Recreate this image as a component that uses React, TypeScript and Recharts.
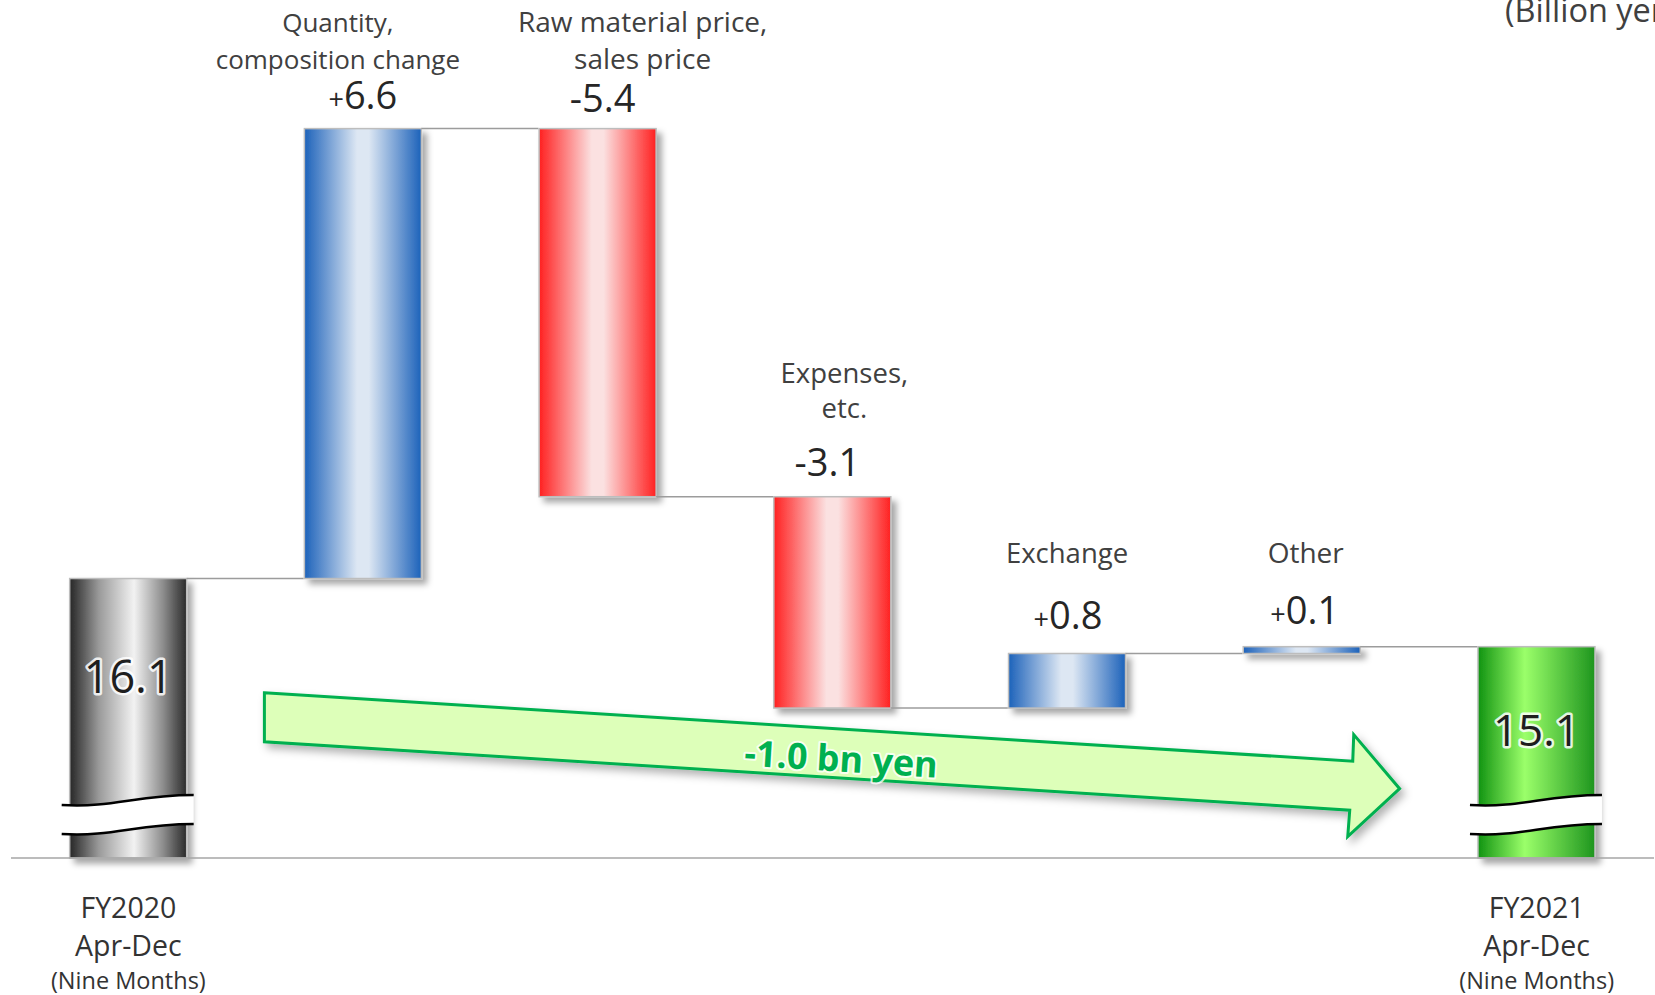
import React from 'react';
import { BarChart, Bar, XAxis, YAxis, ReferenceLine } from 'recharts';

// ---------- data ----------
const categories = ['FY2020', 'Quantity', 'RawMaterial', 'Expenses', 'Exchange', 'Other', 'FY2021'];
const barKinds = ['total', 'delta', 'delta', 'delta', 'delta', 'delta', 'total'];
const barValues = [16.1, 6.6, -5.4, -3.1, 0.8, 0.1, 15.1];
const axisTickLines = [
  ['FY2020', 'Apr-Dec', '(Nine Months)'],
  [], [], [], [], [],
  ['FY2021', 'Apr-Dec', '(Nine Months)'],
];
const factorLabelLines = [
  [],
  ['Quantity,', 'composition change'],
  ['Raw material price,', 'sales price'],
  ['Expenses,', 'etc.'],
  ['Exchange'],
  ['Other'],
  [],
];
const axisDomain = [12, 24];
const arrowLevels = [14.19, 12.89]; // centre line of the change arrow at FY2020 / FY2021
const unitLabel = '(Billion yen)';
const changeUnit = 'bn yen';

// ---------- layout / style (not data) ----------
const valueGap = [0, 20, 17, 21, 25, 23, 0];
const valueDx = [0, 0, 5, -5, 1, 3, 0];
const factorGap = [0, 40, 43, 58, 66, 61, 0];
const factorDx = [0, -25, 45, 12, 0, 4, 0];
const factorLineH = [0, 37, 37, 35, 36, 36, 0];
const factorSize = [0, 26, 28, 27.5, 27.5, 28, 0];
const innerGap = [114, 0, 0, 0, 0, 0, 99];
const innerSize = [45, 0, 0, 0, 0, 0, 44];
const FONT = '"Open Sans", "DejaVu Sans", sans-serif';

// ---------- derived table ----------
const data = (() => {
  let running = 0;
  return categories.map((key, i) => {
    const v = barValues[i];
    let range: number[];
    if (barKinds[i] === 'total') {
      range = [axisDomain[0], v];
      running = v;
    } else {
      const next = Math.round((running + v) * 10) / 10;
      range = [Math.min(running, next), Math.max(running, next)];
      running = next;
    }
    return { key, range };
  });
})();

const fmt = (i: number) => {
  const v = barValues[i];
  if (barKinds[i] === 'total') return v.toFixed(1);
  return v > 0 ? '+' + v.toFixed(1) : v.toFixed(1);
};

const fillFor = (i: number) => {
  if (barKinds[i] === 'total') return i === 0 ? 'url(#gPrev)' : 'url(#gCurr)';
  return barValues[i] >= 0 ? 'url(#gUp)' : 'url(#gDown)';
};

const wave = (xl: number, xr: number, yl: number, yr: number) => {
  const w = xr - xl;
  return `M${xl},${yl} C${xl + 0.4 * w},${yl + 3} ${xl + 0.55 * w},${yr} ${xr},${yr}`;
};

const WaterfallBar = (props: any) => {
  const { x, y, width, height, index } = props;
  const isTotal = barKinds[index] === 'total';
  const v = barValues[index];
  const endY = isTotal || v >= 0 ? y : y + height;
  const cx = x + width / 2;
  const label = fmt(index);
  const parts: any[] = [];

  parts.push(
    <rect key="r" x={x} y={y} width={width} height={height} fill={fillFor(index)}
      stroke="#BDBDBD" strokeWidth={1.5} filter="url(#barShadow)" />
  );
  if (index < categories.length - 1) {
    parts.push(
      <line key="c" x1={x + width} x2={x + 2 * width} y1={endY} y2={endY} stroke="#9C9C9C" strokeWidth={1.5} />
    );
  }
  if (isTotal) {
    const yb = y + height;
    const xl = x - 8;
    const xr = x + width + 7;
    const w = xr - xl;
    const up = wave(xl, xr, yb - 53, yb - 63);
    const lo = wave(xl, xr, yb - 24, yb - 34);
    const loBack = `L${xr},${yb - 34} C${xl + 0.55 * w},${yb - 34} ${xl + 0.4 * w},${yb - 21} ${xl},${yb - 24} Z`;
    parts.push(<path key="wb" d={up + ' ' + loBack} fill="#fff" stroke="none" />);
    parts.push(<path key="w1" d={up} fill="none" stroke="#000" strokeWidth={2.5} />);
    parts.push(<path key="w2" d={lo} fill="none" stroke="#000" strokeWidth={2.5} />);
    parts.push(
      <text key="in" x={cx} y={y + innerGap[index]} textAnchor="middle" fontFamily={FONT} fontSize={innerSize[index]}
        fill="#1E1E1E" stroke="#FFFFFF" strokeWidth={5} strokeOpacity={0.85} paintOrder="stroke" strokeLinejoin="round">
        {label}
      </text>
    );
  } else {
    const vb = y - valueGap[index];
    parts.push(
      <text key="v" x={cx + valueDx[index]} y={vb} textAnchor="middle" fontFamily={FONT} fontSize={38} fill="#262626">
        {label[0] === '+' ? [<tspan key="s" fontSize={27}>+</tspan>, <tspan key="n">{label.slice(1)}</tspan>] : label}
      </text>
    );
    const lines = factorLabelLines[index];
    const lastBase = vb - factorGap[index];
    lines.forEach((ln, k) => {
      parts.push(
        <text key={'f' + k} x={cx + factorDx[index]} y={lastBase - (lines.length - 1 - k) * factorLineH[index]}
          textAnchor="middle" fontFamily={FONT} fontSize={factorSize[index]} fill="#404040">
          {ln}
        </text>
      );
    });
  }
  return <g>{parts}</g>;
};

const AxisTick = (props: any) => {
  const { x, y, payload } = props;
  const idx = categories.indexOf(payload?.value);
  const lines = idx >= 0 ? axisTickLines[idx] : [];
  if (!lines.length) return <g />;
  return (
    <g>
      <text x={x} y={y + 60} textAnchor="middle" fontFamily={FONT} fontSize={28.5} fill="#333">{lines[0]}</text>
      <text x={x} y={y + 98} textAnchor="middle" fontFamily={FONT} fontSize={28.5} fill="#333">{lines[1]}</text>
      <text x={x} y={y + 131} textAnchor="middle" fontFamily={FONT} fontSize={23.5} fill="#333">{lines[2]}</text>
    </g>
  );
};

const ArrowShape = (p: any) => {
  const { x1, y1, x2, y2 } = p;
  if (x1 == null) return <g />;
  const at = (t: number) => [x1 + (x2 - x1) * t, y1 + (y2 - y1) * t];
  const [sx, sy] = at(0.0966);
  const [bx, by] = at(0.868);
  const [tx, ty] = at(0.9027);
  const hb = 24.5;
  const hh = 51;
  const pts = [
    [sx, sy - hb], [bx + 2, by - hb], [bx + 3, by - hh], [tx, ty],
    [bx - 3, by + hh], [bx - 1, by + hb], [sx, sy + hb],
  ].map((q) => q.join(',')).join(' ');
  const ang = (Math.atan2(y2 - y1, x2 - x1) * 180) / Math.PI;
  const [cx, cy] = at(0.5064);
  const change = (barValues[barValues.length - 1] - barValues[0]).toFixed(1);
  return (
    <g>
      <polygon points={pts} fill="#DDFFB9" stroke="#00B050" strokeWidth={3} strokeLinejoin="miter" filter="url(#arrowShadow)" />
      <text transform={`translate(${cx},${cy}) rotate(${ang})`} x={0} y={18} textAnchor="middle"
        fontFamily={FONT} fontWeight={700} fontSize={36} fill="#00B050"
        stroke="#FFFFFF" strokeWidth={4} strokeOpacity={0.8} paintOrder="stroke" strokeLinejoin="round">
        {`${change} ${changeUnit}`}
      </text>
    </g>
  );
};

export default function App() {
  return (
    <div style={{ position: 'absolute', left: 0, top: 0, width: 1655, height: 995, overflow: 'hidden', background: '#fff' }}>
      <BarChart width={1655} height={995} data={data} margin={{ top: 40, right: 1, bottom: 7, left: 11 }} barCategoryGap="25%">
        <defs>
          <linearGradient id="gUp" x1="0" y1="0" x2="1" y2="0">
            <stop offset="0" stopColor="#1D62BA" />
            <stop offset="0.45" stopColor="#DDE7F3" />
            <stop offset="0.55" stopColor="#DDE7F3" />
            <stop offset="1" stopColor="#1D62BA" />
          </linearGradient>
          <linearGradient id="gDown" x1="0" y1="0" x2="1" y2="0">
            <stop offset="0" stopColor="#FF2020" />
            <stop offset="0.45" stopColor="#FBE1E1" />
            <stop offset="0.55" stopColor="#FBE1E1" />
            <stop offset="1" stopColor="#FF2020" />
          </linearGradient>
          <linearGradient id="gPrev" x1="0" y1="0" x2="1" y2="0">
            <stop offset="0" stopColor="#262626" />
            <stop offset="0.25" stopColor="#9A9A9A" />
            <stop offset="0.55" stopColor="#F2F2F2" />
            <stop offset="0.8" stopColor="#8C8C8C" />
            <stop offset="1" stopColor="#2A2A2A" />
          </linearGradient>
          <linearGradient id="gCurr" x1="0" y1="0" x2="1" y2="0">
            <stop offset="0" stopColor="#119311" />
            <stop offset="0.4" stopColor="#9BFF6A" />
            <stop offset="1" stopColor="#1E951E" />
          </linearGradient>
          <filter id="barShadow" filterUnits="userSpaceOnUse" x="0" y="0" width="1655" height="995">
            <feDropShadow dx="5" dy="5" stdDeviation="3" floodColor="#000" floodOpacity="0.35" />
          </filter>
          <filter id="arrowShadow" filterUnits="userSpaceOnUse" x="0" y="0" width="1655" height="995">
            <feDropShadow dx="4" dy="5" stdDeviation="4" floodColor="#000" floodOpacity="0.3" />
          </filter>
        </defs>
        <XAxis dataKey="key" interval={0} tickLine={false} tickSize={0} tickMargin={0} height={130}
          axisLine={{ stroke: '#A6A6A6', strokeWidth: 1.5 }} tick={(p: any) => <AxisTick {...p} />} />
        <YAxis hide type="number" domain={axisDomain} />
        <Bar dataKey="range" shape={WaterfallBar} isAnimationActive={false} />
        <ReferenceLine
          segment={[{ x: categories[0], y: arrowLevels[0] }, { x: categories[categories.length - 1], y: arrowLevels[1] }]}
          shape={ArrowShape}
          ifOverflow="visible"
        />
      </BarChart>
      <div style={{ position: 'absolute', left: 1505, top: -6, fontFamily: FONT, fontSize: 32.5, lineHeight: '32px', color: '#404040', whiteSpace: 'nowrap' }}>
        {unitLabel}
      </div>
    </div>
  );
}
